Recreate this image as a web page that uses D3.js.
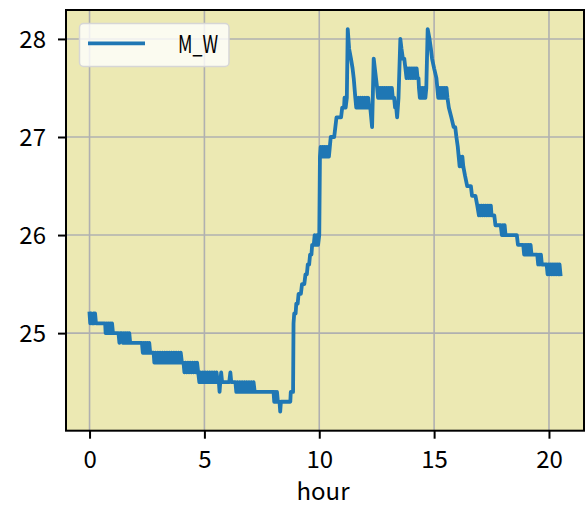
<!DOCTYPE html>
<html>
<head>
<meta charset="utf-8">
<script src="https://cdn.jsdelivr.net/npm/d3@7"></script>
<style>
  html, body { margin: 0; padding: 0; background: #ffffff; }
  svg { display: block; }
  text { font-family: "Noto Sans CJK JP", "Noto Sans", sans-serif; }
</style>
</head>
<body>
<svg id="chart" width="585" height="520"></svg>
<script>
// ---- data (hour, M_W) ----
const seriesName = "M_W";
const xLabel = "hour";
const xTicks = [0, 5, 10, 15, 20];
const yTicks = [25, 26, 27, 28];
const mwReadings = [
  [0,25.2],[0.03,25.1],[0.06,25.2],[0.1,25.1],[0.14,25.1],[0.17,25.2],[0.2,25.1],[0.24,25.2],[0.28,25.1],[0.32,25.1],
  [0.68,25.1],
  [0.7,25.0],[0.74,25.1],[0.78,25.0],[0.82,25.1],[0.86,25.0],[0.9,25.1],[0.94,25.0],[0.98,25.1],[1.02,25.0],[1.05,25.0],
  [1.26,25.0],[1.3,24.9],[1.33,25.0],[1.41,25.0],
  [1.45,24.9],[1.49,25.0],[1.53,24.9],[1.57,25.0],[1.61,24.9],[1.65,25.0],[1.69,24.9],[1.73,25.0],[1.77,24.9],
  [2.28,24.9],
  [2.32,24.8],[2.36,24.9],[2.4,24.8],[2.44,24.9],[2.48,24.8],[2.52,24.9],[2.56,24.8],[2.6,24.9],[2.64,24.8],
  [2.79,24.8],
  [2.82,24.7],[2.87,24.8],[2.92,24.7],[2.97,24.8],[3.02,24.7],[3.07,24.8],[3.12,24.7],[3.17,24.8],[3.22,24.7],[3.27,24.8],
  [3.32,24.7],[3.37,24.8],[3.42,24.7],[3.47,24.8],[3.52,24.7],[3.57,24.8],[3.62,24.7],[3.67,24.8],[3.72,24.7],[3.77,24.8],
  [3.82,24.7],[3.87,24.8],[3.92,24.7],[3.97,24.8],[4.02,24.7],
  [4.09,24.7],
  [4.13,24.6],[4.18,24.7],[4.23,24.6],[4.28,24.7],[4.33,24.6],[4.38,24.7],[4.43,24.6],[4.48,24.7],[4.53,24.6],[4.58,24.7],
  [4.63,24.6],[4.68,24.7],[4.73,24.6],
  [4.78,24.5],[4.83,24.6],[4.88,24.5],[4.93,24.6],[4.98,24.5],[5.03,24.6],[5.08,24.5],[5.13,24.6],[5.18,24.5],[5.23,24.6],
  [5.28,24.5],[5.33,24.6],[5.38,24.5],[5.43,24.6],[5.48,24.5],[5.53,24.6],[5.58,24.5],[5.63,24.5],[5.66,24.4],[5.69,24.5],
  [5.73,24.6],[5.77,24.5],
  [6.08,24.5],[6.13,24.6],[6.17,24.5],[6.35,24.5],
  [6.39,24.4],[6.44,24.5],[6.49,24.4],[6.54,24.5],[6.59,24.4],[6.64,24.5],[6.69,24.4],[6.74,24.5],[6.79,24.4],[6.84,24.5],
  [6.89,24.4],[6.94,24.5],[6.99,24.4],[7.04,24.5],[7.09,24.4],[7.14,24.5],[7.19,24.4],[7.22,24.4],
  [8.01,24.4],[8.04,24.3],[8.08,24.4],[8.12,24.3],[8.16,24.4],[8.2,24.3],[8.27,24.3],[8.3,24.2],[8.33,24.3],[8.74,24.3],
  [8.76,24.4],[8.86,24.4],
  [8.88,25.1],[8.91,25.2],[8.97,25.2],[9.0,25.3],[9.06,25.3],[9.1,25.4],[9.2,25.4],[9.25,25.5],[9.35,25.5],[9.4,25.6],
  [9.46,25.6],[9.5,25.7],[9.56,25.7],[9.6,25.8],[9.66,25.8],[9.69,25.9],[9.76,25.9],[9.8,26.0],[9.85,25.9],[9.9,26.0],
  [9.95,25.9],[10.0,26.0],[10.03,26.8],
  [10.06,26.9],[10.1,26.8],[10.14,26.9],[10.18,26.8],[10.22,26.9],[10.26,26.8],[10.3,26.9],[10.34,26.8],[10.38,26.9],[10.42,26.8],
  [10.46,26.9],
  [10.5,27.0],[10.65,27.0],[10.7,27.1],[10.75,27.2],[10.95,27.2],[11.0,27.3],[11.08,27.3],[11.1,27.4],[11.15,27.3],[11.2,27.4],
  [11.24,28.1],[11.3,27.9],[11.38,27.8],[11.45,27.7],[11.5,27.6],[11.57,27.4],
  [11.61,27.3],[11.65,27.4],[11.69,27.3],[11.73,27.4],[11.77,27.3],[11.81,27.4],[11.85,27.3],[11.89,27.4],[11.93,27.3],[11.97,27.4],
  [12.01,27.3],[12.05,27.4],[12.09,27.3],[12.13,27.4],[12.17,27.3],[12.22,27.3],
  [12.3,27.1],[12.37,27.8],[12.42,27.7],[12.47,27.6],[12.52,27.5],
  [12.56,27.4],[12.6,27.5],[12.64,27.4],[12.68,27.5],[12.72,27.4],[12.76,27.5],[12.8,27.4],[12.84,27.5],[12.88,27.4],[12.92,27.5],
  [12.96,27.4],[13.0,27.5],[13.04,27.4],[13.08,27.5],[13.12,27.4],[13.16,27.5],[13.2,27.4],
  [13.26,27.4],[13.3,27.3],[13.35,27.3],[13.39,27.2],[13.45,27.4],[13.53,28.0],[13.58,27.9],[13.64,27.8],[13.7,27.8],[13.75,27.7],
  [13.8,27.6],[13.84,27.7],[13.88,27.6],[13.92,27.7],[13.96,27.6],[14.0,27.7],[14.04,27.6],[14.08,27.7],[14.12,27.6],[14.16,27.7],
  [14.2,27.6],[14.24,27.7],[14.28,27.6],[14.32,27.6],[14.34,27.5],
  [14.38,27.4],[14.42,27.5],[14.46,27.4],[14.5,27.5],[14.54,27.4],[14.58,27.5],[14.62,27.4],[14.66,27.5],
  [14.72,28.1],[14.8,28.0],[14.86,27.9],[14.91,27.8],[15.0,27.7],[15.1,27.6],
  [15.14,27.5],[15.18,27.4],[15.22,27.5],[15.26,27.4],[15.3,27.5],[15.34,27.4],[15.38,27.5],[15.42,27.4],[15.46,27.5],[15.5,27.4],
  [15.54,27.5],[15.58,27.4],
  [15.64,27.3],[15.75,27.2],[15.85,27.1],[15.92,27.1],[15.97,27.0],[16.03,26.9],[16.07,26.8],
  [16.11,26.7],[16.15,26.8],[16.19,26.7],[16.23,26.8],[16.27,26.7],
  [16.35,26.6],[16.44,26.5],[16.6,26.5],[16.65,26.4],[16.8,26.4],[16.88,26.3],
  [16.95,26.2],[16.99,26.3],[17.03,26.2],[17.07,26.3],[17.11,26.2],[17.15,26.3],[17.19,26.2],[17.23,26.3],[17.27,26.2],[17.31,26.3],
  [17.35,26.2],[17.39,26.3],[17.43,26.2],[17.47,26.3],
  [17.5,26.2],[17.62,26.2],[17.67,26.1],[17.9,26.1],[17.95,26.0],[17.99,26.1],[18.03,26.0],[18.07,26.1],[18.11,26.0],[18.6,26.0],
  [18.65,25.9],[18.88,25.9],
  [18.92,25.8],[18.96,25.9],[19.0,25.8],[19.04,25.9],[19.08,25.8],[19.12,25.9],[19.16,25.8],[19.2,25.9],[19.24,25.8],[19.28,25.8],
  [19.49,25.8],
  [19.53,25.7],[19.57,25.8],[19.61,25.7],[19.65,25.8],[19.69,25.7],[19.9,25.7],
  [19.94,25.6],[19.98,25.7],[20.02,25.6],[20.06,25.7],[20.1,25.6],[20.14,25.7],[20.18,25.6],[20.22,25.7],[20.26,25.6],[20.3,25.7],
  [20.34,25.6],[20.38,25.7],[20.42,25.6],[20.46,25.7],[20.5,25.6]
];

// ---- layout ----
const W = 585, H = 520;
const plot = { left: 66, top: 10, right: 584, bottom: 430.7 };
const fontSize = 24;

const svg = d3.select("#chart");

// scales with 5% margins like matplotlib
const xExt = d3.extent(mwReadings, d => d[0]);
const yExt = d3.extent(mwReadings, d => d[1]);
const xPad = (xExt[1] - xExt[0]) * 0.05;
const yPad = (yExt[1] - yExt[0]) * 0.05;
const x = d3.scaleLinear().domain([xExt[0] - xPad, xExt[1] + xPad]).range([plot.left, plot.right]);
const y = d3.scaleLinear().domain([yExt[0] - yPad, yExt[1] + yPad]).range([plot.bottom, plot.top]);

// background
svg.append("rect")
  .attr("x", plot.left).attr("y", plot.top)
  .attr("width", plot.right - plot.left).attr("height", plot.bottom - plot.top)
  .attr("fill", "#ece9b3");

// grid
const grid = svg.append("g").attr("stroke", "#b0b0b0").attr("stroke-width", 1.6);
grid.selectAll("line.gx").data(xTicks).join("line").attr("class", "gx")
  .attr("x1", d => x(d)).attr("x2", d => x(d))
  .attr("y1", plot.top).attr("y2", plot.bottom);
grid.selectAll("line.gy").data(yTicks).join("line").attr("class", "gy")
  .attr("y1", d => y(d)).attr("y2", d => y(d))
  .attr("x1", plot.left).attr("x2", plot.right);

// data line
svg.append("defs").append("clipPath").attr("id", "clip")
  .append("rect").attr("x", plot.left).attr("y", plot.top)
  .attr("width", plot.right - plot.left).attr("height", plot.bottom - plot.top);

const line = d3.line().x(d => x(d[0])).y(d => y(d[1]));
svg.append("path")
  .datum(mwReadings)
  .attr("clip-path", "url(#clip)")
  .attr("d", line)
  .attr("fill", "none")
  .attr("stroke", "#1f77b4")
  .attr("stroke-width", 3.8)
  .attr("stroke-linejoin", "round")
  .attr("stroke-linecap", "square");

// frame
svg.append("rect")
  .attr("x", plot.left).attr("y", plot.top)
  .attr("width", plot.right - plot.left).attr("height", plot.bottom - plot.top)
  .attr("fill", "none").attr("stroke", "#000").attr("stroke-width", 2);

// axes
const xAxis = svg.append("g")
  .attr("transform", `translate(0,${plot.bottom})`)
  .call(d3.axisBottom(x).tickValues(xTicks).tickFormat(d3.format("d")).tickSize(8).tickPadding(0));
xAxis.select(".domain").remove();
xAxis.selectAll(".tick line").attr("stroke", "#000").attr("stroke-width", 2);
xAxis.selectAll(".tick text")
  .attr("font-size", fontSize).attr("fill", "#000")
  .attr("y", 37.5).attr("dy", null);

const yAxis = svg.append("g")
  .attr("transform", `translate(${plot.left},0)`)
  .call(d3.axisLeft(y).tickValues(yTicks).tickFormat(d3.format("d")).tickSize(8).tickPadding(0));
yAxis.select(".domain").remove();
yAxis.selectAll(".tick line").attr("stroke", "#000").attr("stroke-width", 2);
yAxis.selectAll(".tick text")
  .attr("font-size", fontSize).attr("fill", "#000")
  .attr("x", -20).attr("dy", "0.36em");

// x label
svg.append("text")
  .attr("x", (plot.left + plot.right) / 2 - 2)
  .attr("y", 500)
  .attr("text-anchor", "middle")
  .attr("font-size", fontSize)
  .attr("fill", "#000")
  .text(xLabel);

// legend
const lg = svg.append("g");
lg.append("rect")
  .attr("x", 79.5).attr("y", 23.5).attr("width", 149.5).attr("height", 43)
  .attr("rx", 4).attr("ry", 4)
  .attr("fill", "#ffffff").attr("fill-opacity", 0.8)
  .attr("stroke", "#d6d6d6").attr("stroke-width", 1.5);
lg.append("line")
  .attr("x1", 88).attr("x2", 145).attr("y1", 43.3).attr("y2", 43.3)
  .attr("stroke", "#1f77b4").attr("stroke-width", 3.8);
lg.append("text")
  .attr("x", 178).attr("y", 53)
  .attr("font-size", fontSize).attr("fill", "#000")
  .attr("textLength", 40).attr("lengthAdjust", "spacingAndGlyphs")
  .text(seriesName);
</script>
</body>
</html>
